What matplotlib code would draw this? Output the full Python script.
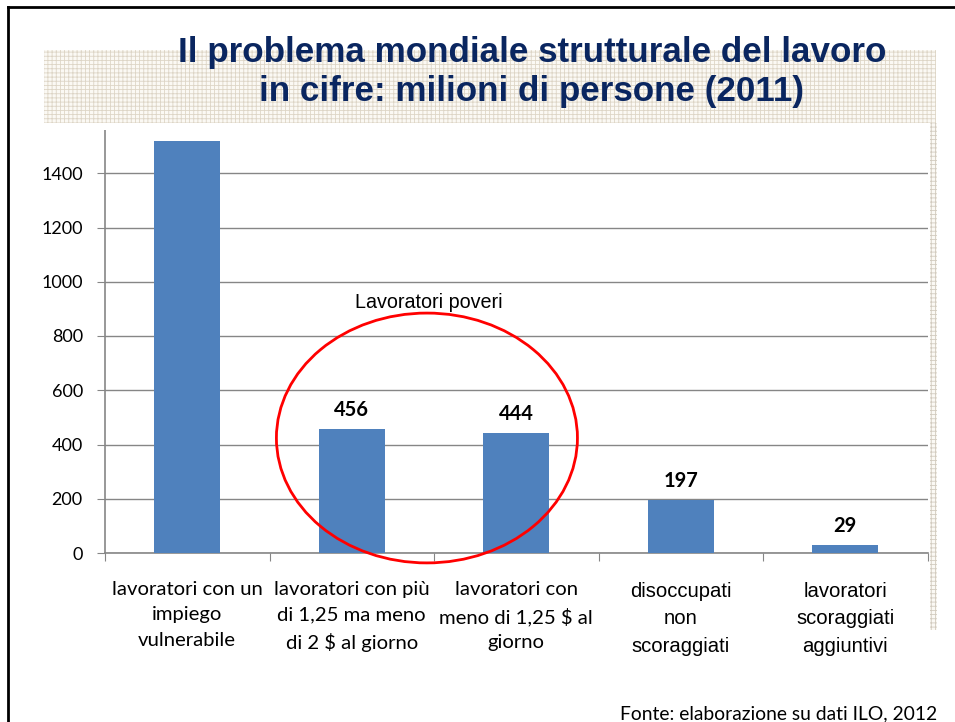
import matplotlib.pyplot as plt
from matplotlib.patches import Rectangle, Ellipse
from matplotlib.lines import Line2D
import matplotlib.transforms as mtransforms

# data
categories = ["lavoratori con un\nimpiego\nvulnerabile",
              "lavoratori con più\ndi 1,25 ma meno\ndi 2 \\$ al giorno",
              "lavoratori con\nmeno di 1,25 \\$ al\ngiorno",
              "disoccupati\nnon\nscoraggiati",
              "lavoratori\nscoraggiati\naggiuntivi"]
values = [1520, 456, 444, 197, 29]
label_fonts = ["Lato", "Lato", "Lato", "Liberation Sans", "Liberation Sans"]
yticks = [0, 200, 400, 600, 800, 1000, 1200, 1400]
title_lines = ["Il problema mondiale strutturale del lavoro",
               "in cifre: milioni di persone (2011)"]
source = "Fonte: elaborazione su dati ILO, 2012"

plt.rcParams['hatch.linewidth'] = 0.6

W, H = 955, 722
fig = plt.figure(figsize=(W / 100, H / 100), dpi=100)
fig.patch.set_facecolor('white')

def fx(px):
    return px / W

def fy(py):
    return 1 - py / H

ax = fig.add_axes([fx(105), fy(553), fx(927.5) - fx(105), fy(119) - fy(553)])
xs = list(range(len(values)))
ax.bar(xs, values, width=0.4, color='#4f81bd', zorder=3)
ax.set_xlim(-0.5, len(values) - 0.5)
ax.set_ylim(0, 1600)
ax.set_yticks(yticks)
ax.set_yticklabels([str(t) for t in yticks], fontfamily='Lato', fontsize=13)
ax.yaxis.grid(True, color='#868686', linewidth=1, zorder=0)
ax.set_axisbelow(True)
for s in ['top', 'right']:
    ax.spines[s].set_visible(False)
for s in ['left', 'bottom']:
    ax.spines[s].set_color('#868686')
    ax.spines[s].set_linewidth(1.2)
ax.tick_params(axis='y', length=6, color='#868686', pad=10)
ax.set_xticks([x - 0.5 for x in xs] + [len(values) - 0.5])
ax.set_xticklabels([])
ax.tick_params(axis='x', length=6, color='#868686')

# category labels under the axis
trans = mtransforms.blended_transform_factory(ax.transData, fig.transFigure)
for x, lab, fam in zip(xs, categories, label_fonts):
    if fam == 'Lato':
        ax.text(x, fy(581), lab, transform=trans, ha='center', va='top',
                fontfamily=fam, fontsize=14.6, linespacing=1.6,
                multialignment='center')
    else:
        ax.text(x, fy(582), lab, transform=trans, ha='center', va='top',
                fontfamily=fam, fontsize=14.6, linespacing=1.55,
                multialignment='center')

for x, v in zip(xs, values):
    ax.text(x, v + 33, str(v), ha='center', va='bottom', fontfamily='Lato',
            fontweight='bold', fontsize=14.5, zorder=4)

# "lavoratori poveri" circle
ax.add_patch(Ellipse((1.457, 424), 1.83, 921, fill=False, edgecolor='#ff0000',
                     linewidth=2, clip_on=False, zorder=5))
ax.text(1.47, 925, "Lavoratori poveri", ha='center', va='center',
        fontfamily='Liberation Sans', fontsize=14.2, zorder=5)

# title box with dotted texture
fig.patches.append(Rectangle((fx(40), fy(130)), fx(945) - fx(40), fy(40) - fy(130),
                             transform=fig.transFigure, facecolor='white',
                             edgecolor='none', zorder=10))
fig.patches.append(Rectangle((fx(44), fy(123)), fx(936) - fx(44), fy(50) - fy(123),
                             transform=fig.transFigure, facecolor='#fbf9f4',
                             edgecolor='#ddd5c6', linewidth=0, hatch='++++',
                             zorder=11))
fig.patches.append(Rectangle((fx(930), fy(630)), fx(937) - fx(930), fy(123) - fy(630),
                             transform=fig.transFigure, facecolor='#fbf9f4',
                             edgecolor='#d2cbbf', linewidth=0, hatch='++++',
                             zorder=11))
fig.text(fx(532), fy(62), title_lines[0], ha='center', va='baseline',
         fontfamily='Liberation Sans', fontweight='bold', fontsize=25.2,
         color='#0a2660', zorder=12)
fig.text(fx(531), fy(101), title_lines[1], ha='center', va='baseline',
         fontfamily='Liberation Sans', fontweight='bold', fontsize=25.2,
         color='#0a2660', zorder=12)

fig.text(fx(937), fy(719), source, ha='right', va='baseline',
         fontfamily='Lato', fontsize=13.9)

# slide border
fig.add_artist(Line2D([fx(8), fx(8)], [0, fy(7)], color='black', linewidth=2,
                      transform=fig.transFigure))
fig.add_artist(Line2D([fx(8), 1], [fy(7), fy(7)], color='black', linewidth=2,
                      transform=fig.transFigure))

fig.savefig('out.png', dpi=100)
